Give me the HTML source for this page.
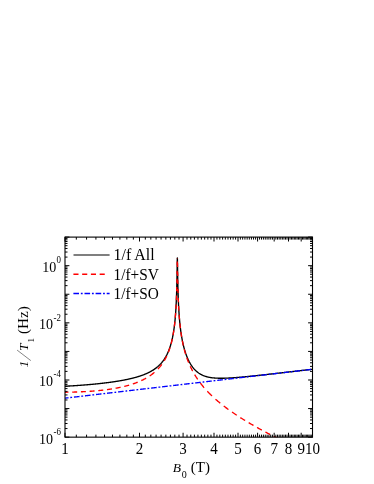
<!DOCTYPE html>
<html><head><meta charset="utf-8"><title>plot</title>
<style>
html,body{margin:0;padding:0;background:#fff;}
body{width:374px;height:484px;overflow:hidden;font-family:"Liberation Serif",serif;}
svg{display:block;will-change:transform;}
text{filter:grayscale(1);font-family:"Liberation Serif",serif;fill:#000;}
</style></head><body>
<svg width="374" height="484" viewBox="0 0 374 484">
<rect width="374" height="484" fill="#fff"/>
<defs><clipPath id="c"><rect x="65.0" y="237.1" width="247.5" height="200.04999999999998"/></clipPath></defs>
<g fill="none" stroke-width="1.35" stroke-linejoin="round" clip-path="url(#c)">
<path d="M65.00,386.23 L65.35,386.21 L65.71,386.20 L66.06,386.18 L66.41,386.16 L66.77,386.14 L67.12,386.12 L67.47,386.10 L67.83,386.08 L68.18,386.06 L68.54,386.04 L68.89,386.02 L69.24,386.01 L69.60,385.99 L69.95,385.96 L70.30,385.94 L70.66,385.92 L71.01,385.90 L71.36,385.88 L71.72,385.86 L72.07,385.84 L72.42,385.82 L72.78,385.80 L73.13,385.78 L73.49,385.75 L73.84,385.73 L74.19,385.71 L74.55,385.69 L74.90,385.66 L75.25,385.64 L75.61,385.62 L75.96,385.59 L76.31,385.57 L76.67,385.55 L77.02,385.52 L77.38,385.50 L77.73,385.48 L78.08,385.45 L78.44,385.43 L78.79,385.40 L79.14,385.38 L79.50,385.35 L79.85,385.33 L80.20,385.30 L80.56,385.27 L80.91,385.25 L81.26,385.22 L81.62,385.20 L81.97,385.17 L82.33,385.14 L82.68,385.12 L83.03,385.09 L83.39,385.06 L83.74,385.03 L84.09,385.01 L84.45,384.98 L84.80,384.95 L85.15,384.92 L85.51,384.89 L85.86,384.87 L86.21,384.84 L86.57,384.81 L86.92,384.78 L87.28,384.75 L87.63,384.72 L87.98,384.69 L88.34,384.66 L88.69,384.63 L89.04,384.60 L89.40,384.57 L89.75,384.53 L90.10,384.50 L90.46,384.47 L90.81,384.44 L91.16,384.41 L91.52,384.37 L91.87,384.34 L92.22,384.31 L92.58,384.28 L92.93,384.24 L93.29,384.21 L93.64,384.18 L93.99,384.14 L94.35,384.11 L94.70,384.07 L95.05,384.04 L95.41,384.00 L95.76,383.97 L96.11,383.93 L96.47,383.90 L96.82,383.86 L97.17,383.82 L97.53,383.79 L97.88,383.75 L98.24,383.71 L98.59,383.68 L98.94,383.64 L99.30,383.60 L99.65,383.56 L100.00,383.52 L100.36,383.49 L100.71,383.45 L101.06,383.41 L101.42,383.37 L101.77,383.33 L102.12,383.29 L102.48,383.25 L102.83,383.21 L103.19,383.16 L103.54,383.12 L103.89,383.08 L104.25,383.04 L104.60,383.00 L104.95,382.95 L105.31,382.91 L105.66,382.87 L106.01,382.82 L106.37,382.78 L106.72,382.74 L107.08,382.69 L107.43,382.65 L107.78,382.60 L108.14,382.55 L108.49,382.51 L108.84,382.46 L109.20,382.41 L109.55,382.37 L109.90,382.32 L110.26,382.27 L110.61,382.22 L110.96,382.17 L111.32,382.13 L111.67,382.08 L112.03,382.03 L112.38,381.98 L112.73,381.92 L113.09,381.87 L113.44,381.82 L113.79,381.77 L114.15,381.72 L114.50,381.66 L114.85,381.61 L115.21,381.56 L115.56,381.50 L115.91,381.45 L116.27,381.39 L116.62,381.34 L116.97,381.28 L117.33,381.22 L117.68,381.17 L118.04,381.11 L118.39,381.05 L118.74,380.99 L119.10,380.93 L119.45,380.87 L119.80,380.81 L120.16,380.75 L120.51,380.69 L120.86,380.63 L121.22,380.56 L121.57,380.50 L121.92,380.44 L122.28,380.37 L122.63,380.31 L122.99,380.24 L123.34,380.17 L123.69,380.11 L124.05,380.04 L124.40,379.97 L124.75,379.90 L125.11,379.83 L125.46,379.76 L125.81,379.69 L126.17,379.62 L126.52,379.55 L126.88,379.47 L127.23,379.40 L127.58,379.32 L127.94,379.25 L128.29,379.17 L128.64,379.09 L129.00,379.01 L129.35,378.93 L129.70,378.85 L130.06,378.77 L130.41,378.69 L130.76,378.61 L131.12,378.52 L131.47,378.44 L131.82,378.35 L132.18,378.27 L132.53,378.18 L132.89,378.09 L133.24,378.00 L133.59,377.91 L133.95,377.82 L134.30,377.72 L134.65,377.63 L135.01,377.53 L135.36,377.44 L135.71,377.34 L136.07,377.24 L136.42,377.14 L136.78,377.03 L137.13,376.93 L137.48,376.83 L137.84,376.72 L138.19,376.61 L138.54,376.50 L138.90,376.39 L139.25,376.28 L139.60,376.16 L139.96,376.05 L140.31,375.93 L140.66,375.81 L141.02,375.69 L141.37,375.57 L141.72,375.44 L142.08,375.32 L142.43,375.19 L142.79,375.06 L143.14,374.93 L143.49,374.79 L143.85,374.66 L144.20,374.52 L144.55,374.38 L144.91,374.23 L145.26,374.09 L145.61,373.94 L145.97,373.79 L146.32,373.63 L146.68,373.48 L147.03,373.32 L147.38,373.16 L147.74,372.99 L148.09,372.82 L148.44,372.65 L148.80,372.48 L149.15,372.30 L149.50,372.12 L149.86,371.94 L150.21,371.75 L150.56,371.56 L150.92,371.36 L151.27,371.16 L151.62,370.96 L151.98,370.75 L152.33,370.54 L152.69,370.32 L153.04,370.10 L153.39,369.87 L153.75,369.64 L154.10,369.41 L154.45,369.16 L154.81,368.92 L155.16,368.66 L155.51,368.40 L155.87,368.14 L156.22,367.87 L156.57,367.59 L156.93,367.30 L157.28,367.01 L157.64,366.71 L157.99,366.41 L158.34,366.09 L158.70,365.77 L159.05,365.43 L159.40,365.09 L159.76,364.74 L160.11,364.38 L160.46,364.01 L160.82,363.63 L161.17,363.23 L161.53,362.83 L161.88,362.41 L162.23,361.98 L162.59,361.53 L162.94,361.07 L163.29,360.60 L163.65,360.11 L164.00,359.60 L164.35,359.08 L164.71,358.53 L165.06,357.97 L165.41,357.39 L165.77,356.78 L166.12,356.15 L166.47,355.49 L166.83,354.81 L167.18,354.10 L167.54,353.36 L167.89,352.58 L168.24,351.77 L168.60,350.92 L168.95,350.03 L169.30,349.09 L169.66,348.11 L170.01,347.07 L170.36,345.97 L170.72,344.81 L171.07,343.58 L171.43,342.26 L171.78,340.85 L172.13,339.35 L172.49,337.73 L172.84,335.97 L173.19,334.06 L173.55,331.97 L173.90,329.66 L174.25,327.09 L174.35,326.35 L174.40,325.95 L174.45,325.55 L174.50,325.13 L174.55,324.71 L174.60,324.28 L174.61,324.20 L174.65,323.84 L174.70,323.39 L174.75,322.94 L174.80,322.47 L174.85,322.00 L174.90,321.51 L174.95,321.02 L174.96,320.89 L175.00,320.51 L175.05,320.00 L175.10,319.47 L175.15,318.93 L175.20,318.37 L175.25,317.81 L175.30,317.23 L175.31,317.04 L175.35,316.64 L175.40,316.03 L175.45,315.40 L175.50,314.76 L175.55,314.10 L175.60,313.42 L175.65,312.72 L175.67,312.44 L175.70,312.00 L175.75,311.26 L175.80,310.50 L175.85,309.71 L175.90,308.90 L175.95,308.05 L176.00,307.18 L176.02,306.77 L176.05,306.27 L176.10,305.33 L176.15,304.35 L176.20,303.34 L176.25,302.27 L176.30,301.17 L176.35,300.01 L176.38,299.36 L176.40,298.79 L176.45,297.51 L176.50,296.17 L176.55,294.75 L176.60,293.24 L176.65,291.65 L176.70,289.95 L176.73,288.84 L176.75,288.13 L176.80,286.19 L176.85,284.10 L176.90,281.84 L176.95,279.39 L177.00,276.74 L177.05,273.87 L177.08,271.79 L177.10,270.78 L177.15,267.50 L177.20,264.18 L177.25,261.11 L177.30,258.82 L177.35,257.97 L177.40,258.87 L177.44,260.53 L177.45,261.19 L177.50,264.29 L177.55,267.63 L177.60,270.93 L177.65,274.04 L177.70,276.93 L177.75,279.61 L177.79,281.64 L177.80,282.07 L177.85,284.35 L177.90,286.46 L177.95,288.43 L178.00,290.27 L178.05,291.99 L178.10,293.60 L178.14,294.98 L178.15,295.13 L178.20,296.57 L178.25,297.94 L178.30,299.24 L178.35,300.48 L178.40,301.66 L178.45,302.79 L178.50,303.84 L178.50,303.88 L178.55,304.92 L178.60,305.92 L178.65,306.88 L178.70,307.81 L178.75,308.71 L178.80,309.57 L178.85,310.41 L178.85,310.44 L178.90,311.22 L178.95,312.01 L179.00,312.77 L179.05,313.51 L179.10,314.23 L179.15,314.93 L179.20,315.62 L179.20,315.70 L179.25,316.28 L179.30,316.93 L179.35,317.56 L179.40,318.18 L179.45,318.78 L179.50,319.37 L179.55,319.94 L179.56,320.04 L179.60,320.50 L179.65,321.05 L179.70,321.59 L179.75,322.12 L179.80,322.64 L179.85,323.14 L179.90,323.64 L179.91,323.77 L179.95,324.13 L180.00,324.61 L180.05,325.08 L180.10,325.54 L180.15,325.99 L180.20,326.43 L180.25,326.87 L180.26,327.01 L180.30,327.30 L180.35,327.72 L180.62,329.89 L180.97,332.48 L181.32,334.83 L181.68,336.98 L182.03,338.95 L182.39,340.79 L182.74,342.49 L183.09,344.09 L183.45,345.58 L183.80,346.99 L184.15,348.32 L184.51,349.58 L184.86,350.77 L185.21,351.90 L185.57,352.98 L185.92,354.01 L186.28,354.99 L186.63,355.93 L186.98,356.82 L187.34,357.68 L187.69,358.50 L188.04,359.29 L188.40,360.05 L188.75,360.77 L189.10,361.47 L189.46,362.14 L189.81,362.78 L190.16,363.40 L190.52,364.00 L190.87,364.57 L191.22,365.13 L191.58,365.66 L191.93,366.17 L192.29,366.66 L192.64,367.14 L192.99,367.59 L193.35,368.03 L193.70,368.46 L194.05,368.87 L194.41,369.26 L194.76,369.64 L195.11,370.01 L195.47,370.36 L195.82,370.70 L196.18,371.03 L196.53,371.34 L196.88,371.65 L197.24,371.94 L197.59,372.22 L197.94,372.49 L198.30,372.75 L198.65,373.01 L199.00,373.25 L199.36,373.48 L199.71,373.70 L200.06,373.92 L200.42,374.13 L200.77,374.33 L201.12,374.52 L201.48,374.70 L201.83,374.88 L202.19,375.05 L202.54,375.21 L202.89,375.37 L203.25,375.52 L203.60,375.67 L203.95,375.80 L204.31,375.94 L204.66,376.06 L205.01,376.19 L205.37,376.30 L205.72,376.42 L206.07,376.52 L206.43,376.63 L206.78,376.73 L207.14,376.82 L207.49,376.91 L207.84,377.00 L208.20,377.08 L208.55,377.16 L208.90,377.23 L209.26,377.30 L209.61,377.37 L209.96,377.43 L210.32,377.49 L210.67,377.55 L211.03,377.61 L211.38,377.66 L211.73,377.71 L212.09,377.76 L212.44,377.80 L212.79,377.84 L213.15,377.88 L213.50,377.92 L213.85,377.95 L214.21,377.98 L214.56,378.01 L214.91,378.04 L215.27,378.07 L215.62,378.09 L215.97,378.11 L216.33,378.13 L216.68,378.15 L217.04,378.17 L217.39,378.18 L217.74,378.20 L218.10,378.21 L218.45,378.22 L218.80,378.23 L219.16,378.24 L219.51,378.24 L219.86,378.25 L220.22,378.25 L220.57,378.25 L220.93,378.26 L221.28,378.26 L221.63,378.25 L221.99,378.25 L222.34,378.25 L222.69,378.24 L223.05,378.24 L223.40,378.23 L223.75,378.23 L224.11,378.22 L224.46,378.21 L224.81,378.20 L225.17,378.19 L225.52,378.18 L225.88,378.16 L226.23,378.15 L226.58,378.14 L226.94,378.12 L227.29,378.11 L227.64,378.09 L228.00,378.08 L228.35,378.06 L228.70,378.04 L229.06,378.02 L229.41,378.00 L229.76,377.98 L230.12,377.96 L230.47,377.94 L230.82,377.92 L231.18,377.90 L231.53,377.88 L231.89,377.85 L232.24,377.83 L232.59,377.81 L232.95,377.78 L233.30,377.76 L233.65,377.73 L234.01,377.71 L234.36,377.68 L234.71,377.66 L235.07,377.63 L235.42,377.60 L235.78,377.58 L236.13,377.55 L236.48,377.52 L236.84,377.49 L237.19,377.47 L237.54,377.44 L237.90,377.41 L238.25,377.38 L238.60,377.35 L238.96,377.32 L239.31,377.29 L239.66,377.26 L240.02,377.23 L240.37,377.20 L240.72,377.17 L241.08,377.14 L241.43,377.10 L241.79,377.07 L242.14,377.04 L242.49,377.01 L242.85,376.97 L243.20,376.94 L243.55,376.91 L243.91,376.88 L244.26,376.84 L244.61,376.81 L244.97,376.78 L245.32,376.74 L245.68,376.71 L246.03,376.67 L246.38,376.64 L246.74,376.61 L247.09,376.57 L247.44,376.54 L247.80,376.50 L248.15,376.47 L248.50,376.43 L248.86,376.40 L249.21,376.36 L249.56,376.33 L249.92,376.29 L250.27,376.25 L250.62,376.22 L250.98,376.18 L251.33,376.15 L251.69,376.11 L252.04,376.07 L252.39,376.04 L252.75,376.00 L253.10,375.96 L253.45,375.93 L253.81,375.89 L254.16,375.85 L254.51,375.82 L254.87,375.78 L255.22,375.74 L255.57,375.70 L255.93,375.67 L256.28,375.63 L256.64,375.59 L256.99,375.55 L257.34,375.52 L257.70,375.48 L258.05,375.44 L258.40,375.40 L258.76,375.37 L259.11,375.33 L259.46,375.29 L259.82,375.25 L260.17,375.21 L260.52,375.17 L260.88,375.14 L261.23,375.10 L261.59,375.06 L261.94,375.02 L262.29,374.98 L262.65,374.94 L263.00,374.91 L263.35,374.87 L263.71,374.83 L264.06,374.79 L264.41,374.75 L264.77,374.71 L265.12,374.67 L265.48,374.63 L265.83,374.59 L266.18,374.55 L266.54,374.52 L266.89,374.48 L267.24,374.44 L267.60,374.40 L267.95,374.36 L268.30,374.32 L268.66,374.28 L269.01,374.24 L269.36,374.20 L269.72,374.16 L270.07,374.12 L270.43,374.08 L270.78,374.04 L271.13,374.00 L271.49,373.96 L271.84,373.92 L272.19,373.88 L272.55,373.84 L272.90,373.80 L273.25,373.76 L273.61,373.73 L273.96,373.69 L274.31,373.65 L274.67,373.61 L275.02,373.57 L275.38,373.53 L275.73,373.49 L276.08,373.45 L276.44,373.41 L276.79,373.37 L277.14,373.33 L277.50,373.29 L277.85,373.25 L278.20,373.20 L278.56,373.16 L278.91,373.12 L279.26,373.08 L279.62,373.04 L279.97,373.00 L280.32,372.96 L280.68,372.92 L281.03,372.88 L281.39,372.84 L281.74,372.80 L282.09,372.76 L282.45,372.72 L282.80,372.68 L283.15,372.64 L283.51,372.60 L283.86,372.56 L284.21,372.52 L284.57,372.48 L284.92,372.44 L285.27,372.40 L285.63,372.36 L285.98,372.32 L286.34,372.28 L286.69,372.24 L287.04,372.20 L287.40,372.15 L287.75,372.11 L288.10,372.07 L288.46,372.03 L288.81,371.99 L289.16,371.95 L289.52,371.91 L289.87,371.87 L290.23,371.83 L290.58,371.79 L290.93,371.75 L291.29,371.71 L291.64,371.67 L291.99,371.63 L292.35,371.59 L292.70,371.54 L293.05,371.50 L293.41,371.46 L293.76,371.42 L294.11,371.38 L294.47,371.34 L294.82,371.30 L295.18,371.26 L295.53,371.22 L295.88,371.18 L296.24,371.14 L296.59,371.10 L296.94,371.06 L297.30,371.01 L297.65,370.97 L298.00,370.93 L298.36,370.89 L298.71,370.85 L299.06,370.81 L299.42,370.77 L299.77,370.73 L300.12,370.69 L300.48,370.65 L300.83,370.61 L301.19,370.56 L301.54,370.52 L301.89,370.48 L302.25,370.44 L302.60,370.40 L302.95,370.36 L303.31,370.32 L303.66,370.28 L304.01,370.24 L304.37,370.20 L304.72,370.16 L305.07,370.11 L305.43,370.07 L305.78,370.03 L306.14,369.99 L306.49,369.95 L306.84,369.91 L307.20,369.87 L307.55,369.83 L307.90,369.79 L308.26,369.75 L308.61,369.70 L308.96,369.66 L309.32,369.62 L309.67,369.58 L310.02,369.54 L310.38,369.50 L310.73,369.46 L311.09,369.42 L311.44,369.38 L311.79,369.33 L312.15,369.29 L312.50,369.25" stroke="#000"/>
<path d="M65.00,392.22 L65.60,392.21 L66.20,392.20 L66.80,392.20 L67.40,392.19 L68.00,392.18 L68.48,392.17 M72.20,392.10 L72.80,392.08 L73.40,392.07 L74.00,392.05 L74.60,392.03 L75.20,392.02 L75.80,392.00 L76.40,391.98 L77.00,391.96 L77.18,391.95 M80.90,391.81 L81.48,391.78 L82.06,391.76 L82.64,391.73 L83.22,391.70 L83.80,391.67 L84.38,391.64 L84.96,391.61 L85.54,391.58 L85.88,391.56 M89.60,391.33 L90.18,391.29 L90.76,391.25 L91.32,391.21 L91.88,391.17 L92.44,391.12 L93.00,391.08 L93.56,391.04 L94.12,390.99 L94.58,390.95 M98.28,390.62 L98.84,390.56 L99.40,390.51 L99.96,390.45 L100.52,390.39 L101.08,390.33 L101.64,390.27 L102.18,390.21 L102.72,390.15 L103.26,390.09 M106.96,389.62 L107.50,389.55 L108.04,389.47 L108.58,389.40 L109.12,389.32 L109.66,389.24 L110.20,389.16 L110.74,389.08 L111.26,389.00 L111.78,388.92 L111.92,388.89 M115.62,388.26 L116.14,388.17 L116.66,388.07 L117.18,387.97 L117.70,387.87 L118.22,387.77 L118.72,387.67 L119.22,387.56 L119.72,387.46 L120.22,387.35 L120.56,387.28 M124.24,386.43 L124.74,386.31 L125.22,386.19 L125.70,386.06 L126.18,385.94 L126.66,385.81 L127.14,385.68 L127.62,385.55 L128.10,385.41 L128.58,385.28 L129.06,385.14 L129.16,385.11 M132.80,383.97 L133.26,383.81 L133.72,383.66 L134.18,383.50 L134.64,383.33 L135.10,383.17 L135.54,383.01 L135.98,382.84 L136.42,382.67 L136.86,382.50 L137.30,382.33 L137.68,382.18 M141.30,380.62 L141.72,380.42 L142.14,380.22 L142.56,380.02 L142.98,379.81 L143.38,379.61 L143.78,379.40 L144.18,379.20 L144.58,378.99 L144.98,378.77 L145.38,378.55 L145.78,378.33 L146.10,378.15 M149.66,375.95 L150.02,375.71 L150.38,375.46 L150.74,375.21 L151.10,374.95 L151.46,374.69 L151.82,374.42 L152.18,374.15 L152.52,373.89 L152.86,373.63 L153.20,373.36 L153.54,373.08 L153.88,372.80 L154.22,372.52 L154.40,372.36 M157.90,369.05 L158.20,368.73 L158.50,368.41 L158.80,368.08 L159.10,367.74 L159.38,367.42 L159.66,367.10 L159.94,366.76 L160.22,366.42 L160.50,366.08 L160.78,365.73 L161.06,365.37 L161.32,365.03 L161.58,364.68 L161.84,364.33 M164.22,360.74 L164.46,360.33 L164.70,359.92 L164.92,359.54 L165.14,359.14 L165.36,358.74 L165.58,358.33 L165.80,357.92 L166.02,357.49 L166.24,357.05 L166.44,356.65 L166.64,356.23 L166.76,355.98 M168.34,352.33 L168.52,351.87 L168.70,351.40 L168.88,350.92 L169.06,350.43 L169.22,349.98 L169.38,349.53 L169.54,349.06 L169.70,348.58 L169.86,348.10 L170.02,347.60 L170.06,347.47 M171.12,343.82 L171.26,343.28 L171.40,342.74 L171.54,342.18 L171.66,341.69 L171.78,341.19 L171.90,340.68 L172.02,340.15 L172.14,339.61 L172.26,339.06 L172.30,338.88 M173.04,335.12 L173.14,334.56 L173.24,333.99 L173.34,333.40 L173.44,332.80 L173.54,332.18 L173.64,331.54 L173.72,331.02 L173.80,330.49 L173.82,330.35 M174.34,326.53 L174.42,325.88 L174.50,325.21 L174.58,324.53 L174.66,323.82 L174.72,323.27 L174.78,322.72 L174.84,322.15 L174.90,321.56 M175.26,317.72 L175.32,317.02 L175.38,316.30 L175.44,315.55 L175.50,314.78 L175.56,313.98 L175.62,313.15 L175.64,312.87 M175.90,308.89 L175.94,308.21 L175.98,307.52 L176.02,306.81 L176.06,306.07 L176.10,305.31 L176.14,304.53 M176.34,300.21 L176.38,299.25 L176.42,298.25 L176.46,297.21 L176.50,296.12 L176.52,295.56 M176.66,291.25 L176.68,290.58 L176.70,289.88 L176.72,289.17 L176.74,288.44 L176.76,287.68 L176.78,286.91 M176.88,282.67 L176.90,281.75 L176.92,280.79 L176.94,279.80 L176.96,278.78 M177.04,274.35 L177.06,273.15 L177.08,271.92 L177.10,270.65 M177.18,265.37 L177.20,264.05 L177.22,262.77 L177.24,261.57 M177.36,258.03 L177.38,258.35 M177.48,263.12 L177.50,264.42 L177.52,265.75 L177.54,267.10 M177.62,272.32 L177.64,273.56 L177.66,274.76 L177.68,275.92 M177.76,280.22 L177.78,281.21 L177.80,282.17 L177.82,283.10 L177.84,284.00 M177.96,288.89 L177.98,289.62 L178.00,290.34 L178.02,291.04 L178.04,291.73 L178.06,292.39 L178.08,293.04 M178.24,297.74 L178.28,298.79 L178.32,299.81 L178.36,300.78 L178.40,301.72 L178.42,302.18 M178.60,305.98 L178.64,306.75 L178.68,307.50 L178.72,308.23 L178.76,308.94 L178.80,309.64 L178.84,310.31 L178.86,310.64 M179.14,314.87 L179.20,315.69 L179.26,316.49 L179.32,317.26 L179.38,318.01 L179.44,318.74 L179.50,319.45 M179.86,323.35 L179.92,323.95 L179.98,324.53 L180.04,325.10 L180.10,325.66 L180.16,326.21 L180.24,326.92 L180.32,327.61 L180.38,328.12 M180.88,332.01 L180.96,332.59 L181.04,333.15 L181.12,333.70 L181.20,334.24 L181.28,334.76 L181.38,335.41 L181.48,336.04 L181.58,336.65 L181.62,336.90 M182.30,340.71 L182.40,341.23 L182.50,341.74 L182.62,342.34 L182.74,342.93 L182.86,343.50 L182.98,344.06 L183.10,344.61 L183.22,345.15 L183.30,345.51 M184.22,349.28 L184.36,349.82 L184.50,350.34 L184.64,350.85 L184.78,351.36 L184.92,351.85 L185.06,352.34 L185.20,352.82 L185.34,353.29 L185.48,353.75 L185.60,354.14 M186.82,357.85 L186.98,358.30 L187.14,358.75 L187.32,359.24 L187.50,359.73 L187.68,360.21 L187.86,360.68 L188.04,361.14 L188.22,361.60 L188.40,362.05 L188.58,362.49 L188.64,362.63 M190.24,366.30 L190.44,366.72 L190.64,367.15 L190.84,367.56 L191.04,367.98 L191.24,368.38 L191.44,368.78 L191.66,369.22 L191.88,369.65 L192.10,370.07 L192.32,370.49 L192.54,370.91 L192.64,371.09 M194.68,374.68 L194.92,375.08 L195.16,375.47 L195.40,375.86 L195.64,376.24 L195.88,376.62 L196.12,377.00 L196.36,377.37 L196.60,377.74 L196.84,378.10 L197.08,378.46 L197.34,378.84 L197.60,379.23 L197.74,379.43 M200.30,382.97 L200.56,383.31 L200.84,383.67 L201.12,384.03 L201.40,384.39 L201.68,384.74 L201.96,385.09 L202.24,385.44 L202.52,385.78 L202.80,386.12 L203.08,386.46 L203.36,386.79 L203.64,387.13 L203.92,387.45 L204.14,387.71 M207.30,391.22 L207.60,391.54 L207.90,391.86 L208.20,392.17 L208.50,392.48 L208.80,392.79 L209.10,393.10 L209.40,393.40 L209.70,393.70 L210.00,394.00 L210.32,394.32 L210.64,394.64 L210.96,394.95 L211.28,395.26 L211.60,395.57 L211.92,395.88 L211.94,395.90 M215.48,399.16 L215.80,399.44 L216.12,399.72 L216.44,400.00 L216.78,400.30 L217.12,400.59 L217.46,400.88 L217.80,401.17 L218.14,401.46 L218.48,401.75 L218.82,402.04 L219.16,402.32 L219.50,402.60 L219.84,402.88 L220.18,403.16 L220.20,403.18 M223.74,405.99 L224.08,406.26 L224.42,406.52 L224.76,406.78 L225.12,407.05 L225.48,407.32 L225.84,407.59 L226.20,407.86 L226.56,408.13 L226.92,408.40 L227.28,408.67 L227.64,408.93 L228.00,409.19 L228.36,409.46 L228.48,409.54 M232.02,412.06 L232.38,412.31 L232.74,412.55 L233.10,412.80 L233.46,413.05 L233.82,413.29 L234.18,413.54 L234.54,413.78 L234.90,414.02 L235.26,414.27 L235.62,414.51 L236.00,414.76 L236.38,415.01 L236.76,415.26 L236.78,415.28 M240.34,417.58 L240.72,417.82 L241.10,418.06 L241.48,418.30 L241.86,418.54 L242.24,418.78 L242.62,419.02 L243.00,419.25 L243.38,419.49 L243.76,419.72 L244.14,419.96 L244.52,420.19 L244.90,420.42 L245.10,420.54 M248.68,422.69 L249.06,422.92 L249.44,423.14 L249.82,423.36 L250.20,423.59 L250.58,423.81 L250.96,424.03 L251.34,424.25 L251.74,424.48 L252.14,424.71 L252.54,424.94 L252.94,425.17 L253.34,425.40 L253.46,425.47 M257.02,427.48 L257.42,427.70 L257.82,427.92 L258.22,428.14 L258.62,428.36 L259.02,428.58 L259.42,428.80 L259.82,429.02 L260.22,429.24 L260.62,429.46 L261.02,429.67 L261.42,429.89 L261.82,430.11 M265.40,432.02 L265.80,432.23 L266.20,432.44 L266.60,432.65 L267.00,432.86 L267.40,433.07 L267.80,433.28 L268.20,433.49 L268.60,433.69 L269.00,433.90 L269.40,434.11 L269.80,434.32 L270.20,434.52 M273.80,436.36 L274.20,436.56 L274.60,436.76 L275.00,436.96 L275.40,437.16 L275.80,437.36 L276.22,437.57 L276.64,437.78 L277.06,437.99 L277.48,438.20 L277.90,438.41 L278.32,438.62 L278.60,438.75 M282.20,440.52 L282.62,440.72 L283.04,440.93 L283.46,441.13 L283.88,441.33 L284.30,441.54 L284.72,441.74 L285.14,441.94 L285.56,442.14 L285.98,442.34 L286.40,442.54 L286.82,442.74 L287.02,442.84 M290.62,444.54 L291.04,444.74 L291.46,444.94 L291.88,445.13 L292.30,445.33 L292.72,445.53 L293.14,445.72 L293.56,445.92 L293.98,446.11 L294.40,446.31 L294.82,446.50 L295.24,446.70 L295.46,446.80 M299.06,448.45 L299.48,448.64 L299.90,448.83 L300.32,449.02 L300.74,449.21 L301.16,449.40 L301.58,449.59 L302.00,449.78 L302.42,449.97 L302.84,450.16 L303.26,450.35 L303.68,450.54 L303.88,450.63 M307.50,452.25 L307.92,452.44 L308.34,452.62 L308.76,452.81 L309.18,452.99 L309.60,453.18 L310.02,453.36 L310.44,453.55 L310.86,453.74 L311.28,453.92 L311.70,454.10 L312.12,454.29 L312.34,454.39" stroke="#f00"/>
<path d="M65.00,398.16 L65.35,398.12 L65.71,398.08 L66.06,398.03 L66.41,397.99 L66.77,397.95 L67.12,397.91 L67.47,397.87 L67.83,397.83 L68.18,397.79 L68.54,397.75 L68.89,397.70 L69.24,397.66 L69.60,397.62 L69.95,397.58 L70.30,397.54 L70.66,397.50 L71.01,397.46 L71.36,397.42 L71.72,397.37 L72.07,397.33 L72.42,397.29 L72.78,397.25 L73.13,397.21 L73.49,397.17 L73.84,397.13 L74.19,397.09 L74.55,397.04 L74.90,397.00 L75.25,396.96 L75.61,396.92 L75.96,396.88 L76.31,396.84 L76.67,396.80 L77.02,396.76 L77.38,396.71 L77.73,396.67 L78.08,396.63 L78.44,396.59 L78.79,396.55 L79.14,396.51 L79.50,396.47 L79.85,396.42 L80.20,396.38 L80.56,396.34 L80.91,396.30 L81.26,396.26 L81.62,396.22 L81.97,396.18 L82.33,396.14 L82.68,396.09 L83.03,396.05 L83.39,396.01 L83.74,395.97 L84.09,395.93 L84.45,395.89 L84.80,395.85 L85.15,395.81 L85.51,395.76 L85.86,395.72 L86.21,395.68 L86.57,395.64 L86.92,395.60 L87.28,395.56 L87.63,395.52 L87.98,395.48 L88.34,395.43 L88.69,395.39 L89.04,395.35 L89.40,395.31 L89.75,395.27 L90.10,395.23 L90.46,395.19 L90.81,395.15 L91.16,395.10 L91.52,395.06 L91.87,395.02 L92.22,394.98 L92.58,394.94 L92.93,394.90 L93.29,394.86 L93.64,394.82 L93.99,394.77 L94.35,394.73 L94.70,394.69 L95.05,394.65 L95.41,394.61 L95.76,394.57 L96.11,394.53 L96.47,394.48 L96.82,394.44 L97.17,394.40 L97.53,394.36 L97.88,394.32 L98.24,394.28 L98.59,394.24 L98.94,394.20 L99.30,394.15 L99.65,394.11 L100.00,394.07 L100.36,394.03 L100.71,393.99 L101.06,393.95 L101.42,393.91 L101.77,393.87 L102.12,393.82 L102.48,393.78 L102.83,393.74 L103.19,393.70 L103.54,393.66 L103.89,393.62 L104.25,393.58 L104.60,393.54 L104.95,393.49 L105.31,393.45 L105.66,393.41 L106.01,393.37 L106.37,393.33 L106.72,393.29 L107.08,393.25 L107.43,393.21 L107.78,393.16 L108.14,393.12 L108.49,393.08 L108.84,393.04 L109.20,393.00 L109.55,392.96 L109.90,392.92 L110.26,392.88 L110.61,392.83 L110.96,392.79 L111.32,392.75 L111.67,392.71 L112.03,392.67 L112.38,392.63 L112.73,392.59 L113.09,392.54 L113.44,392.50 L113.79,392.46 L114.15,392.42 L114.50,392.38 L114.85,392.34 L115.21,392.30 L115.56,392.26 L115.91,392.21 L116.27,392.17 L116.62,392.13 L116.97,392.09 L117.33,392.05 L117.68,392.01 L118.04,391.97 L118.39,391.93 L118.74,391.88 L119.10,391.84 L119.45,391.80 L119.80,391.76 L120.16,391.72 L120.51,391.68 L120.86,391.64 L121.22,391.60 L121.57,391.55 L121.92,391.51 L122.28,391.47 L122.63,391.43 L122.99,391.39 L123.34,391.35 L123.69,391.31 L124.05,391.27 L124.40,391.22 L124.75,391.18 L125.11,391.14 L125.46,391.10 L125.81,391.06 L126.17,391.02 L126.52,390.98 L126.88,390.94 L127.23,390.89 L127.58,390.85 L127.94,390.81 L128.29,390.77 L128.64,390.73 L129.00,390.69 L129.35,390.65 L129.70,390.60 L130.06,390.56 L130.41,390.52 L130.76,390.48 L131.12,390.44 L131.47,390.40 L131.82,390.36 L132.18,390.32 L132.53,390.27 L132.89,390.23 L133.24,390.19 L133.59,390.15 L133.95,390.11 L134.30,390.07 L134.65,390.03 L135.01,389.99 L135.36,389.94 L135.71,389.90 L136.07,389.86 L136.42,389.82 L136.78,389.78 L137.13,389.74 L137.48,389.70 L137.84,389.66 L138.19,389.61 L138.54,389.57 L138.90,389.53 L139.25,389.49 L139.60,389.45 L139.96,389.41 L140.31,389.37 L140.66,389.33 L141.02,389.28 L141.37,389.24 L141.72,389.20 L142.08,389.16 L142.43,389.12 L142.79,389.08 L143.14,389.04 L143.49,389.00 L143.85,388.95 L144.20,388.91 L144.55,388.87 L144.91,388.83 L145.26,388.79 L145.61,388.75 L145.97,388.71 L146.32,388.67 L146.68,388.62 L147.03,388.58 L147.38,388.54 L147.74,388.50 L148.09,388.46 L148.44,388.42 L148.80,388.38 L149.15,388.33 L149.50,388.29 L149.86,388.25 L150.21,388.21 L150.56,388.17 L150.92,388.13 L151.27,388.09 L151.62,388.05 L151.98,388.00 L152.33,387.96 L152.69,387.92 L153.04,387.88 L153.39,387.84 L153.75,387.80 L154.10,387.76 L154.45,387.72 L154.81,387.67 L155.16,387.63 L155.51,387.59 L155.87,387.55 L156.22,387.51 L156.57,387.47 L156.93,387.43 L157.28,387.39 L157.64,387.34 L157.99,387.30 L158.34,387.26 L158.70,387.22 L159.05,387.18 L159.40,387.14 L159.76,387.10 L160.11,387.06 L160.46,387.01 L160.82,386.97 L161.17,386.93 L161.53,386.89 L161.88,386.85 L162.23,386.81 L162.59,386.77 L162.94,386.73 L163.29,386.68 L163.65,386.64 L164.00,386.60 L164.35,386.56 L164.71,386.52 L165.06,386.48 L165.41,386.44 L165.77,386.39 L166.12,386.35 L166.47,386.31 L166.83,386.27 L167.18,386.23 L167.54,386.19 L167.89,386.15 L168.24,386.11 L168.60,386.06 L168.95,386.02 L169.30,385.98 L169.66,385.94 L170.01,385.90 L170.36,385.86 L170.72,385.82 L171.07,385.78 L171.43,385.73 L171.78,385.69 L172.13,385.65 L172.49,385.61 L172.84,385.57 L173.19,385.53 L173.55,385.49 L173.90,385.45 L174.25,385.40 L174.35,385.39 L174.40,385.39 L174.45,385.38 L174.50,385.38 L174.55,385.37 L174.60,385.36 L174.61,385.36 L174.65,385.36 L174.70,385.35 L174.75,385.35 L174.80,385.34 L174.85,385.33 L174.90,385.33 L174.95,385.32 L174.96,385.32 L175.00,385.32 L175.05,385.31 L175.10,385.31 L175.15,385.30 L175.20,385.29 L175.25,385.29 L175.30,385.28 L175.31,385.28 L175.35,385.28 L175.40,385.27 L175.45,385.26 L175.50,385.26 L175.55,385.25 L175.60,385.25 L175.65,385.24 L175.67,385.24 L175.70,385.24 L175.75,385.23 L175.80,385.22 L175.85,385.22 L175.90,385.21 L175.95,385.21 L176.00,385.20 L176.02,385.20 L176.05,385.19 L176.10,385.19 L176.15,385.18 L176.20,385.18 L176.25,385.17 L176.30,385.17 L176.35,385.16 L176.38,385.16 L176.40,385.15 L176.45,385.15 L176.50,385.14 L176.55,385.14 L176.60,385.13 L176.65,385.12 L176.70,385.12 L176.73,385.12 L176.75,385.11 L176.80,385.11 L176.85,385.10 L176.90,385.10 L176.95,385.09 L177.00,385.08 L177.05,385.08 L177.08,385.07 L177.10,385.07 L177.15,385.07 L177.20,385.06 L177.25,385.05 L177.30,385.05 L177.35,385.04 L177.40,385.04 L177.44,385.03 L177.45,385.03 L177.50,385.03 L177.55,385.02 L177.60,385.01 L177.65,385.01 L177.70,385.00 L177.75,385.00 L177.79,384.99 L177.80,384.99 L177.85,384.98 L177.90,384.98 L177.95,384.97 L178.00,384.97 L178.05,384.96 L178.10,384.96 L178.14,384.95 L178.15,384.95 L178.20,384.94 L178.25,384.94 L178.30,384.93 L178.35,384.93 L178.40,384.92 L178.45,384.91 L178.50,384.91 L178.50,384.91 L178.55,384.90 L178.60,384.90 L178.65,384.89 L178.70,384.89 L178.75,384.88 L178.80,384.87 L178.85,384.87 L178.85,384.87 L178.90,384.86 L178.95,384.86 L179.00,384.85 L179.05,384.84 L179.10,384.84 L179.15,384.83 L179.20,384.83 L179.20,384.83 L179.25,384.82 L179.30,384.82 L179.35,384.81 L179.40,384.80 L179.45,384.80 L179.50,384.79 L179.55,384.79 L179.56,384.79 L179.60,384.78 L179.65,384.77 L179.70,384.77 L179.75,384.76 L179.80,384.76 L179.85,384.75 L179.90,384.75 L179.91,384.74 L179.95,384.74 L180.00,384.73 L180.05,384.73 L180.10,384.72 L180.15,384.72 L180.20,384.71 L180.25,384.70 L180.26,384.70 L180.30,384.70 L180.35,384.69 L180.62,384.66 L180.97,384.62 L181.32,384.58 L181.68,384.54 L182.03,384.50 L182.39,384.45 L182.74,384.41 L183.09,384.37 L183.45,384.33 L183.80,384.29 L184.15,384.25 L184.51,384.21 L184.86,384.17 L185.21,384.12 L185.57,384.08 L185.92,384.04 L186.28,384.00 L186.63,383.96 L186.98,383.92 L187.34,383.88 L187.69,383.84 L188.04,383.79 L188.40,383.75 L188.75,383.71 L189.10,383.67 L189.46,383.63 L189.81,383.59 L190.16,383.55 L190.52,383.51 L190.87,383.46 L191.22,383.42 L191.58,383.38 L191.93,383.34 L192.29,383.30 L192.64,383.26 L192.99,383.22 L193.35,383.18 L193.70,383.13 L194.05,383.09 L194.41,383.05 L194.76,383.01 L195.11,382.97 L195.47,382.93 L195.82,382.89 L196.18,382.85 L196.53,382.80 L196.88,382.76 L197.24,382.72 L197.59,382.68 L197.94,382.64 L198.30,382.60 L198.65,382.56 L199.00,382.51 L199.36,382.47 L199.71,382.43 L200.06,382.39 L200.42,382.35 L200.77,382.31 L201.12,382.27 L201.48,382.23 L201.83,382.18 L202.19,382.14 L202.54,382.10 L202.89,382.06 L203.25,382.02 L203.60,381.98 L203.95,381.94 L204.31,381.90 L204.66,381.85 L205.01,381.81 L205.37,381.77 L205.72,381.73 L206.07,381.69 L206.43,381.65 L206.78,381.61 L207.14,381.57 L207.49,381.52 L207.84,381.48 L208.20,381.44 L208.55,381.40 L208.90,381.36 L209.26,381.32 L209.61,381.28 L209.96,381.24 L210.32,381.19 L210.67,381.15 L211.03,381.11 L211.38,381.07 L211.73,381.03 L212.09,380.99 L212.44,380.95 L212.79,380.91 L213.15,380.86 L213.50,380.82 L213.85,380.78 L214.21,380.74 L214.56,380.70 L214.91,380.66 L215.27,380.62 L215.62,380.58 L215.97,380.53 L216.33,380.49 L216.68,380.45 L217.04,380.41 L217.39,380.37 L217.74,380.33 L218.10,380.29 L218.45,380.24 L218.80,380.20 L219.16,380.16 L219.51,380.12 L219.86,380.08 L220.22,380.04 L220.57,380.00 L220.93,379.96 L221.28,379.91 L221.63,379.87 L221.99,379.83 L222.34,379.79 L222.69,379.75 L223.05,379.71 L223.40,379.67 L223.75,379.63 L224.11,379.58 L224.46,379.54 L224.81,379.50 L225.17,379.46 L225.52,379.42 L225.88,379.38 L226.23,379.34 L226.58,379.30 L226.94,379.25 L227.29,379.21 L227.64,379.17 L228.00,379.13 L228.35,379.09 L228.70,379.05 L229.06,379.01 L229.41,378.97 L229.76,378.92 L230.12,378.88 L230.47,378.84 L230.82,378.80 L231.18,378.76 L231.53,378.72 L231.89,378.68 L232.24,378.64 L232.59,378.59 L232.95,378.55 L233.30,378.51 L233.65,378.47 L234.01,378.43 L234.36,378.39 L234.71,378.35 L235.07,378.30 L235.42,378.26 L235.78,378.22 L236.13,378.18 L236.48,378.14 L236.84,378.10 L237.19,378.06 L237.54,378.02 L237.90,377.97 L238.25,377.93 L238.60,377.89 L238.96,377.85 L239.31,377.81 L239.66,377.77 L240.02,377.73 L240.37,377.69 L240.72,377.64 L241.08,377.60 L241.43,377.56 L241.79,377.52 L242.14,377.48 L242.49,377.44 L242.85,377.40 L243.20,377.36 L243.55,377.31 L243.91,377.27 L244.26,377.23 L244.61,377.19 L244.97,377.15 L245.32,377.11 L245.68,377.07 L246.03,377.03 L246.38,376.98 L246.74,376.94 L247.09,376.90 L247.44,376.86 L247.80,376.82 L248.15,376.78 L248.50,376.74 L248.86,376.70 L249.21,376.65 L249.56,376.61 L249.92,376.57 L250.27,376.53 L250.62,376.49 L250.98,376.45 L251.33,376.41 L251.69,376.36 L252.04,376.32 L252.39,376.28 L252.75,376.24 L253.10,376.20 L253.45,376.16 L253.81,376.12 L254.16,376.08 L254.51,376.03 L254.87,375.99 L255.22,375.95 L255.57,375.91 L255.93,375.87 L256.28,375.83 L256.64,375.79 L256.99,375.75 L257.34,375.70 L257.70,375.66 L258.05,375.62 L258.40,375.58 L258.76,375.54 L259.11,375.50 L259.46,375.46 L259.82,375.42 L260.17,375.37 L260.52,375.33 L260.88,375.29 L261.23,375.25 L261.59,375.21 L261.94,375.17 L262.29,375.13 L262.65,375.09 L263.00,375.04 L263.35,375.00 L263.71,374.96 L264.06,374.92 L264.41,374.88 L264.77,374.84 L265.12,374.80 L265.48,374.76 L265.83,374.71 L266.18,374.67 L266.54,374.63 L266.89,374.59 L267.24,374.55 L267.60,374.51 L267.95,374.47 L268.30,374.42 L268.66,374.38 L269.01,374.34 L269.36,374.30 L269.72,374.26 L270.07,374.22 L270.43,374.18 L270.78,374.14 L271.13,374.09 L271.49,374.05 L271.84,374.01 L272.19,373.97 L272.55,373.93 L272.90,373.89 L273.25,373.85 L273.61,373.81 L273.96,373.76 L274.31,373.72 L274.67,373.68 L275.02,373.64 L275.38,373.60 L275.73,373.56 L276.08,373.52 L276.44,373.48 L276.79,373.43 L277.14,373.39 L277.50,373.35 L277.85,373.31 L278.20,373.27 L278.56,373.23 L278.91,373.19 L279.26,373.15 L279.62,373.10 L279.97,373.06 L280.32,373.02 L280.68,372.98 L281.03,372.94 L281.39,372.90 L281.74,372.86 L282.09,372.82 L282.45,372.77 L282.80,372.73 L283.15,372.69 L283.51,372.65 L283.86,372.61 L284.21,372.57 L284.57,372.53 L284.92,372.49 L285.27,372.44 L285.63,372.40 L285.98,372.36 L286.34,372.32 L286.69,372.28 L287.04,372.24 L287.40,372.20 L287.75,372.15 L288.10,372.11 L288.46,372.07 L288.81,372.03 L289.16,371.99 L289.52,371.95 L289.87,371.91 L290.23,371.87 L290.58,371.82 L290.93,371.78 L291.29,371.74 L291.64,371.70 L291.99,371.66 L292.35,371.62 L292.70,371.58 L293.05,371.54 L293.41,371.49 L293.76,371.45 L294.11,371.41 L294.47,371.37 L294.82,371.33 L295.18,371.29 L295.53,371.25 L295.88,371.21 L296.24,371.16 L296.59,371.12 L296.94,371.08 L297.30,371.04 L297.65,371.00 L298.00,370.96 L298.36,370.92 L298.71,370.88 L299.06,370.83 L299.42,370.79 L299.77,370.75 L300.12,370.71 L300.48,370.67 L300.83,370.63 L301.19,370.59 L301.54,370.55 L301.89,370.50 L302.25,370.46 L302.60,370.42 L302.95,370.38 L303.31,370.34 L303.66,370.30 L304.01,370.26 L304.37,370.21 L304.72,370.17 L305.07,370.13 L305.43,370.09 L305.78,370.05 L306.14,370.01 L306.49,369.97 L306.84,369.93 L307.20,369.88 L307.55,369.84 L307.90,369.80 L308.26,369.76 L308.61,369.72 L308.96,369.68 L309.32,369.64 L309.67,369.60 L310.02,369.55 L310.38,369.51 L310.73,369.47 L311.09,369.43 L311.44,369.39 L311.79,369.35 L312.15,369.31 L312.50,369.27" stroke="#00f" stroke-dasharray="5.6 1.85 1.8 1.85" stroke-dashoffset="2.1"/>
</g>
<g stroke="#000" stroke-width="1">
<line x1="65.00" y1="437.15" x2="65.00" y2="432.75"/><line x1="65.00" y1="237.1" x2="65.00" y2="241.5"/><line x1="76.32" y1="437.15" x2="76.32" y2="434.65"/><line x1="76.32" y1="237.1" x2="76.32" y2="239.6"/><line x1="86.57" y1="437.15" x2="86.57" y2="434.65"/><line x1="86.57" y1="237.1" x2="86.57" y2="239.6"/><line x1="95.92" y1="437.15" x2="95.92" y2="434.65"/><line x1="95.92" y1="237.1" x2="95.92" y2="239.6"/><line x1="104.53" y1="437.15" x2="104.53" y2="434.65"/><line x1="104.53" y1="237.1" x2="104.53" y2="239.6"/><line x1="112.49" y1="437.15" x2="112.49" y2="434.65"/><line x1="112.49" y1="237.1" x2="112.49" y2="239.6"/><line x1="119.91" y1="437.15" x2="119.91" y2="434.65"/><line x1="119.91" y1="237.1" x2="119.91" y2="239.6"/><line x1="126.84" y1="437.15" x2="126.84" y2="434.65"/><line x1="126.84" y1="237.1" x2="126.84" y2="239.6"/><line x1="133.36" y1="437.15" x2="133.36" y2="434.65"/><line x1="133.36" y1="237.1" x2="133.36" y2="239.6"/><line x1="139.50" y1="437.15" x2="139.50" y2="432.75"/><line x1="139.50" y1="237.1" x2="139.50" y2="241.5"/><line x1="145.32" y1="437.15" x2="145.32" y2="434.65"/><line x1="145.32" y1="237.1" x2="145.32" y2="239.6"/><line x1="150.83" y1="437.15" x2="150.83" y2="434.65"/><line x1="150.83" y1="237.1" x2="150.83" y2="239.6"/><line x1="156.07" y1="437.15" x2="156.07" y2="434.65"/><line x1="156.07" y1="237.1" x2="156.07" y2="239.6"/><line x1="161.07" y1="437.15" x2="161.07" y2="434.65"/><line x1="161.07" y1="237.1" x2="161.07" y2="239.6"/><line x1="165.85" y1="437.15" x2="165.85" y2="434.65"/><line x1="165.85" y1="237.1" x2="165.85" y2="239.6"/><line x1="170.43" y1="437.15" x2="170.43" y2="434.65"/><line x1="170.43" y1="237.1" x2="170.43" y2="239.6"/><line x1="174.82" y1="437.15" x2="174.82" y2="434.65"/><line x1="174.82" y1="237.1" x2="174.82" y2="239.6"/><line x1="179.03" y1="437.15" x2="179.03" y2="434.65"/><line x1="179.03" y1="237.1" x2="179.03" y2="239.6"/><line x1="183.09" y1="437.15" x2="183.09" y2="432.75"/><line x1="183.09" y1="237.1" x2="183.09" y2="241.5"/><line x1="187.00" y1="437.15" x2="187.00" y2="434.65"/><line x1="187.00" y1="237.1" x2="187.00" y2="239.6"/><line x1="190.77" y1="437.15" x2="190.77" y2="434.65"/><line x1="190.77" y1="237.1" x2="190.77" y2="239.6"/><line x1="194.41" y1="437.15" x2="194.41" y2="434.65"/><line x1="194.41" y1="237.1" x2="194.41" y2="239.6"/><line x1="197.94" y1="437.15" x2="197.94" y2="434.65"/><line x1="197.94" y1="237.1" x2="197.94" y2="239.6"/><line x1="201.35" y1="437.15" x2="201.35" y2="434.65"/><line x1="201.35" y1="237.1" x2="201.35" y2="239.6"/><line x1="204.66" y1="437.15" x2="204.66" y2="434.65"/><line x1="204.66" y1="237.1" x2="204.66" y2="239.6"/><line x1="207.87" y1="437.15" x2="207.87" y2="434.65"/><line x1="207.87" y1="237.1" x2="207.87" y2="239.6"/><line x1="210.98" y1="437.15" x2="210.98" y2="434.65"/><line x1="210.98" y1="237.1" x2="210.98" y2="239.6"/><line x1="214.01" y1="437.15" x2="214.01" y2="432.75"/><line x1="214.01" y1="237.1" x2="214.01" y2="241.5"/><line x1="216.95" y1="437.15" x2="216.95" y2="434.65"/><line x1="216.95" y1="237.1" x2="216.95" y2="239.6"/><line x1="219.82" y1="437.15" x2="219.82" y2="434.65"/><line x1="219.82" y1="237.1" x2="219.82" y2="239.6"/><line x1="222.61" y1="437.15" x2="222.61" y2="434.65"/><line x1="222.61" y1="237.1" x2="222.61" y2="239.6"/><line x1="225.33" y1="437.15" x2="225.33" y2="434.65"/><line x1="225.33" y1="237.1" x2="225.33" y2="239.6"/><line x1="227.99" y1="437.15" x2="227.99" y2="434.65"/><line x1="227.99" y1="237.1" x2="227.99" y2="239.6"/><line x1="230.58" y1="437.15" x2="230.58" y2="434.65"/><line x1="230.58" y1="237.1" x2="230.58" y2="239.6"/><line x1="233.11" y1="437.15" x2="233.11" y2="434.65"/><line x1="233.11" y1="237.1" x2="233.11" y2="239.6"/><line x1="235.58" y1="437.15" x2="235.58" y2="434.65"/><line x1="235.58" y1="237.1" x2="235.58" y2="239.6"/><line x1="238.00" y1="437.15" x2="238.00" y2="432.75"/><line x1="238.00" y1="237.1" x2="238.00" y2="241.5"/><line x1="240.36" y1="437.15" x2="240.36" y2="434.65"/><line x1="240.36" y1="237.1" x2="240.36" y2="239.6"/><line x1="242.67" y1="437.15" x2="242.67" y2="434.65"/><line x1="242.67" y1="237.1" x2="242.67" y2="239.6"/><line x1="244.93" y1="437.15" x2="244.93" y2="434.65"/><line x1="244.93" y1="237.1" x2="244.93" y2="239.6"/><line x1="247.15" y1="437.15" x2="247.15" y2="434.65"/><line x1="247.15" y1="237.1" x2="247.15" y2="239.6"/><line x1="249.32" y1="437.15" x2="249.32" y2="434.65"/><line x1="249.32" y1="237.1" x2="249.32" y2="239.6"/><line x1="251.45" y1="437.15" x2="251.45" y2="434.65"/><line x1="251.45" y1="237.1" x2="251.45" y2="239.6"/><line x1="253.54" y1="437.15" x2="253.54" y2="434.65"/><line x1="253.54" y1="237.1" x2="253.54" y2="239.6"/><line x1="255.58" y1="437.15" x2="255.58" y2="434.65"/><line x1="255.58" y1="237.1" x2="255.58" y2="239.6"/><line x1="257.59" y1="437.15" x2="257.59" y2="432.75"/><line x1="257.59" y1="237.1" x2="257.59" y2="241.5"/><line x1="259.56" y1="437.15" x2="259.56" y2="434.65"/><line x1="259.56" y1="237.1" x2="259.56" y2="239.6"/><line x1="261.50" y1="437.15" x2="261.50" y2="434.65"/><line x1="261.50" y1="237.1" x2="261.50" y2="239.6"/><line x1="263.40" y1="437.15" x2="263.40" y2="434.65"/><line x1="263.40" y1="237.1" x2="263.40" y2="239.6"/><line x1="265.27" y1="437.15" x2="265.27" y2="434.65"/><line x1="265.27" y1="237.1" x2="265.27" y2="239.6"/><line x1="267.11" y1="437.15" x2="267.11" y2="434.65"/><line x1="267.11" y1="237.1" x2="267.11" y2="239.6"/><line x1="268.92" y1="437.15" x2="268.92" y2="434.65"/><line x1="268.92" y1="237.1" x2="268.92" y2="239.6"/><line x1="270.69" y1="437.15" x2="270.69" y2="434.65"/><line x1="270.69" y1="237.1" x2="270.69" y2="239.6"/><line x1="272.44" y1="437.15" x2="272.44" y2="434.65"/><line x1="272.44" y1="237.1" x2="272.44" y2="239.6"/><line x1="274.16" y1="437.15" x2="274.16" y2="432.75"/><line x1="274.16" y1="237.1" x2="274.16" y2="241.5"/><line x1="275.85" y1="437.15" x2="275.85" y2="434.65"/><line x1="275.85" y1="237.1" x2="275.85" y2="239.6"/><line x1="277.52" y1="437.15" x2="277.52" y2="434.65"/><line x1="277.52" y1="237.1" x2="277.52" y2="239.6"/><line x1="279.16" y1="437.15" x2="279.16" y2="434.65"/><line x1="279.16" y1="237.1" x2="279.16" y2="239.6"/><line x1="280.78" y1="437.15" x2="280.78" y2="434.65"/><line x1="280.78" y1="237.1" x2="280.78" y2="239.6"/><line x1="282.37" y1="437.15" x2="282.37" y2="434.65"/><line x1="282.37" y1="237.1" x2="282.37" y2="239.6"/><line x1="283.94" y1="437.15" x2="283.94" y2="434.65"/><line x1="283.94" y1="237.1" x2="283.94" y2="239.6"/><line x1="285.49" y1="437.15" x2="285.49" y2="434.65"/><line x1="285.49" y1="237.1" x2="285.49" y2="239.6"/><line x1="287.01" y1="437.15" x2="287.01" y2="434.65"/><line x1="287.01" y1="237.1" x2="287.01" y2="239.6"/><line x1="288.51" y1="437.15" x2="288.51" y2="432.75"/><line x1="288.51" y1="237.1" x2="288.51" y2="241.5"/><line x1="290.00" y1="437.15" x2="290.00" y2="434.65"/><line x1="290.00" y1="237.1" x2="290.00" y2="239.6"/><line x1="291.46" y1="437.15" x2="291.46" y2="434.65"/><line x1="291.46" y1="237.1" x2="291.46" y2="239.6"/><line x1="292.90" y1="437.15" x2="292.90" y2="434.65"/><line x1="292.90" y1="237.1" x2="292.90" y2="239.6"/><line x1="294.33" y1="437.15" x2="294.33" y2="434.65"/><line x1="294.33" y1="237.1" x2="294.33" y2="239.6"/><line x1="295.73" y1="437.15" x2="295.73" y2="434.65"/><line x1="295.73" y1="237.1" x2="295.73" y2="239.6"/><line x1="297.12" y1="437.15" x2="297.12" y2="434.65"/><line x1="297.12" y1="237.1" x2="297.12" y2="239.6"/><line x1="298.49" y1="437.15" x2="298.49" y2="434.65"/><line x1="298.49" y1="237.1" x2="298.49" y2="239.6"/><line x1="299.84" y1="437.15" x2="299.84" y2="434.65"/><line x1="299.84" y1="237.1" x2="299.84" y2="239.6"/><line x1="301.18" y1="437.15" x2="301.18" y2="432.75"/><line x1="301.18" y1="237.1" x2="301.18" y2="241.5"/><line x1="302.49" y1="437.15" x2="302.49" y2="434.65"/><line x1="302.49" y1="237.1" x2="302.49" y2="239.6"/><line x1="303.80" y1="437.15" x2="303.80" y2="434.65"/><line x1="303.80" y1="237.1" x2="303.80" y2="239.6"/><line x1="305.08" y1="437.15" x2="305.08" y2="434.65"/><line x1="305.08" y1="237.1" x2="305.08" y2="239.6"/><line x1="306.36" y1="437.15" x2="306.36" y2="434.65"/><line x1="306.36" y1="237.1" x2="306.36" y2="239.6"/><line x1="307.61" y1="437.15" x2="307.61" y2="434.65"/><line x1="307.61" y1="237.1" x2="307.61" y2="239.6"/><line x1="308.86" y1="437.15" x2="308.86" y2="434.65"/><line x1="308.86" y1="237.1" x2="308.86" y2="239.6"/><line x1="310.08" y1="437.15" x2="310.08" y2="434.65"/><line x1="310.08" y1="237.1" x2="310.08" y2="239.6"/><line x1="311.30" y1="437.15" x2="311.30" y2="434.65"/><line x1="311.30" y1="237.1" x2="311.30" y2="239.6"/><line x1="312.50" y1="437.15" x2="312.50" y2="432.75"/><line x1="312.50" y1="237.1" x2="312.50" y2="241.5"/><line x1="65.0" y1="437.15" x2="69.4" y2="437.15"/><line x1="312.5" y1="437.15" x2="308.1" y2="437.15"/><line x1="65.0" y1="428.55" x2="67.5" y2="428.55"/><line x1="312.5" y1="428.55" x2="310.0" y2="428.55"/><line x1="65.0" y1="423.51" x2="67.5" y2="423.51"/><line x1="312.5" y1="423.51" x2="310.0" y2="423.51"/><line x1="65.0" y1="419.94" x2="67.5" y2="419.94"/><line x1="312.5" y1="419.94" x2="310.0" y2="419.94"/><line x1="65.0" y1="417.17" x2="67.5" y2="417.17"/><line x1="312.5" y1="417.17" x2="310.0" y2="417.17"/><line x1="65.0" y1="414.91" x2="67.5" y2="414.91"/><line x1="312.5" y1="414.91" x2="310.0" y2="414.91"/><line x1="65.0" y1="413.00" x2="67.5" y2="413.00"/><line x1="312.5" y1="413.00" x2="310.0" y2="413.00"/><line x1="65.0" y1="411.34" x2="67.5" y2="411.34"/><line x1="312.5" y1="411.34" x2="310.0" y2="411.34"/><line x1="65.0" y1="409.88" x2="67.5" y2="409.88"/><line x1="312.5" y1="409.88" x2="310.0" y2="409.88"/><line x1="65.0" y1="408.57" x2="69.4" y2="408.57"/><line x1="312.5" y1="408.57" x2="308.1" y2="408.57"/><line x1="65.0" y1="399.97" x2="67.5" y2="399.97"/><line x1="312.5" y1="399.97" x2="310.0" y2="399.97"/><line x1="65.0" y1="394.94" x2="67.5" y2="394.94"/><line x1="312.5" y1="394.94" x2="310.0" y2="394.94"/><line x1="65.0" y1="391.37" x2="67.5" y2="391.37"/><line x1="312.5" y1="391.37" x2="310.0" y2="391.37"/><line x1="65.0" y1="388.60" x2="67.5" y2="388.60"/><line x1="312.5" y1="388.60" x2="310.0" y2="388.60"/><line x1="65.0" y1="386.33" x2="67.5" y2="386.33"/><line x1="312.5" y1="386.33" x2="310.0" y2="386.33"/><line x1="65.0" y1="384.42" x2="67.5" y2="384.42"/><line x1="312.5" y1="384.42" x2="310.0" y2="384.42"/><line x1="65.0" y1="382.76" x2="67.5" y2="382.76"/><line x1="312.5" y1="382.76" x2="310.0" y2="382.76"/><line x1="65.0" y1="381.30" x2="67.5" y2="381.30"/><line x1="312.5" y1="381.30" x2="310.0" y2="381.30"/><line x1="65.0" y1="379.99" x2="69.4" y2="379.99"/><line x1="312.5" y1="379.99" x2="308.1" y2="379.99"/><line x1="65.0" y1="371.39" x2="67.5" y2="371.39"/><line x1="312.5" y1="371.39" x2="310.0" y2="371.39"/><line x1="65.0" y1="366.36" x2="67.5" y2="366.36"/><line x1="312.5" y1="366.36" x2="310.0" y2="366.36"/><line x1="65.0" y1="362.79" x2="67.5" y2="362.79"/><line x1="312.5" y1="362.79" x2="310.0" y2="362.79"/><line x1="65.0" y1="360.02" x2="67.5" y2="360.02"/><line x1="312.5" y1="360.02" x2="310.0" y2="360.02"/><line x1="65.0" y1="357.75" x2="67.5" y2="357.75"/><line x1="312.5" y1="357.75" x2="310.0" y2="357.75"/><line x1="65.0" y1="355.84" x2="67.5" y2="355.84"/><line x1="312.5" y1="355.84" x2="310.0" y2="355.84"/><line x1="65.0" y1="354.18" x2="67.5" y2="354.18"/><line x1="312.5" y1="354.18" x2="310.0" y2="354.18"/><line x1="65.0" y1="352.72" x2="67.5" y2="352.72"/><line x1="312.5" y1="352.72" x2="310.0" y2="352.72"/><line x1="65.0" y1="351.41" x2="69.4" y2="351.41"/><line x1="312.5" y1="351.41" x2="308.1" y2="351.41"/><line x1="65.0" y1="342.81" x2="67.5" y2="342.81"/><line x1="312.5" y1="342.81" x2="310.0" y2="342.81"/><line x1="65.0" y1="337.78" x2="67.5" y2="337.78"/><line x1="312.5" y1="337.78" x2="310.0" y2="337.78"/><line x1="65.0" y1="334.21" x2="67.5" y2="334.21"/><line x1="312.5" y1="334.21" x2="310.0" y2="334.21"/><line x1="65.0" y1="331.44" x2="67.5" y2="331.44"/><line x1="312.5" y1="331.44" x2="310.0" y2="331.44"/><line x1="65.0" y1="329.18" x2="67.5" y2="329.18"/><line x1="312.5" y1="329.18" x2="310.0" y2="329.18"/><line x1="65.0" y1="327.26" x2="67.5" y2="327.26"/><line x1="312.5" y1="327.26" x2="310.0" y2="327.26"/><line x1="65.0" y1="325.61" x2="67.5" y2="325.61"/><line x1="312.5" y1="325.61" x2="310.0" y2="325.61"/><line x1="65.0" y1="324.14" x2="67.5" y2="324.14"/><line x1="312.5" y1="324.14" x2="310.0" y2="324.14"/><line x1="65.0" y1="322.84" x2="69.4" y2="322.84"/><line x1="312.5" y1="322.84" x2="308.1" y2="322.84"/><line x1="65.0" y1="314.23" x2="67.5" y2="314.23"/><line x1="312.5" y1="314.23" x2="310.0" y2="314.23"/><line x1="65.0" y1="309.20" x2="67.5" y2="309.20"/><line x1="312.5" y1="309.20" x2="310.0" y2="309.20"/><line x1="65.0" y1="305.63" x2="67.5" y2="305.63"/><line x1="312.5" y1="305.63" x2="310.0" y2="305.63"/><line x1="65.0" y1="302.86" x2="67.5" y2="302.86"/><line x1="312.5" y1="302.86" x2="310.0" y2="302.86"/><line x1="65.0" y1="300.60" x2="67.5" y2="300.60"/><line x1="312.5" y1="300.60" x2="310.0" y2="300.60"/><line x1="65.0" y1="298.68" x2="67.5" y2="298.68"/><line x1="312.5" y1="298.68" x2="310.0" y2="298.68"/><line x1="65.0" y1="297.03" x2="67.5" y2="297.03"/><line x1="312.5" y1="297.03" x2="310.0" y2="297.03"/><line x1="65.0" y1="295.56" x2="67.5" y2="295.56"/><line x1="312.5" y1="295.56" x2="310.0" y2="295.56"/><line x1="65.0" y1="294.26" x2="69.4" y2="294.26"/><line x1="312.5" y1="294.26" x2="308.1" y2="294.26"/><line x1="65.0" y1="285.65" x2="67.5" y2="285.65"/><line x1="312.5" y1="285.65" x2="310.0" y2="285.65"/><line x1="65.0" y1="280.62" x2="67.5" y2="280.62"/><line x1="312.5" y1="280.62" x2="310.0" y2="280.62"/><line x1="65.0" y1="277.05" x2="67.5" y2="277.05"/><line x1="312.5" y1="277.05" x2="310.0" y2="277.05"/><line x1="65.0" y1="274.28" x2="67.5" y2="274.28"/><line x1="312.5" y1="274.28" x2="310.0" y2="274.28"/><line x1="65.0" y1="272.02" x2="67.5" y2="272.02"/><line x1="312.5" y1="272.02" x2="310.0" y2="272.02"/><line x1="65.0" y1="270.11" x2="67.5" y2="270.11"/><line x1="312.5" y1="270.11" x2="310.0" y2="270.11"/><line x1="65.0" y1="268.45" x2="67.5" y2="268.45"/><line x1="312.5" y1="268.45" x2="310.0" y2="268.45"/><line x1="65.0" y1="266.99" x2="67.5" y2="266.99"/><line x1="312.5" y1="266.99" x2="310.0" y2="266.99"/><line x1="65.0" y1="265.68" x2="69.4" y2="265.68"/><line x1="312.5" y1="265.68" x2="308.1" y2="265.68"/><line x1="65.0" y1="257.08" x2="67.5" y2="257.08"/><line x1="312.5" y1="257.08" x2="310.0" y2="257.08"/><line x1="65.0" y1="252.04" x2="67.5" y2="252.04"/><line x1="312.5" y1="252.04" x2="310.0" y2="252.04"/><line x1="65.0" y1="248.47" x2="67.5" y2="248.47"/><line x1="312.5" y1="248.47" x2="310.0" y2="248.47"/><line x1="65.0" y1="245.70" x2="67.5" y2="245.70"/><line x1="312.5" y1="245.70" x2="310.0" y2="245.70"/><line x1="65.0" y1="243.44" x2="67.5" y2="243.44"/><line x1="312.5" y1="243.44" x2="310.0" y2="243.44"/><line x1="65.0" y1="241.53" x2="67.5" y2="241.53"/><line x1="312.5" y1="241.53" x2="310.0" y2="241.53"/><line x1="65.0" y1="239.87" x2="67.5" y2="239.87"/><line x1="312.5" y1="239.87" x2="310.0" y2="239.87"/><line x1="65.0" y1="238.41" x2="67.5" y2="238.41"/><line x1="312.5" y1="238.41" x2="310.0" y2="238.41"/><line x1="65.0" y1="237.10" x2="69.4" y2="237.10"/><line x1="312.5" y1="237.10" x2="308.1" y2="237.10"/>
</g>
<rect x="65.0" y="237.1" width="247.50" height="200.05" fill="none" stroke="#000" stroke-width="1.1"/>
<g font-size="15">
<text transform="translate(65.00,453.6) scale(0.94,1)" text-anchor="middle" font-size="16">1</text><text transform="translate(139.50,453.6) scale(0.94,1)" text-anchor="middle" font-size="16">2</text><text transform="translate(183.09,453.6) scale(0.94,1)" text-anchor="middle" font-size="16">3</text><text transform="translate(214.01,453.6) scale(0.94,1)" text-anchor="middle" font-size="16">4</text><text transform="translate(238.00,453.6) scale(0.94,1)" text-anchor="middle" font-size="16">5</text><text transform="translate(257.59,453.6) scale(0.94,1)" text-anchor="middle" font-size="16">6</text><text transform="translate(274.16,453.6) scale(0.94,1)" text-anchor="middle" font-size="16">7</text><text transform="translate(288.51,453.6) scale(0.94,1)" text-anchor="middle" font-size="16">8</text><text transform="translate(301.18,453.6) scale(0.94,1)" text-anchor="middle" font-size="16">9</text><text transform="translate(312.50,453.6) scale(0.94,1)" text-anchor="middle" font-size="16">10</text>
<text transform="translate(60.9,262.68) scale(0.94,1)" text-anchor="end" font-size="9.5">0</text><text transform="translate(56.3,271.68) scale(0.9,1)" text-anchor="end" font-size="15.6">10</text><text transform="translate(60.9,320.74) scale(0.94,1)" text-anchor="end" font-size="9.5">-2</text><text transform="translate(53.1,329.04) scale(0.9,1)" text-anchor="end" font-size="15.6">10</text><text transform="translate(60.9,377.39) scale(0.94,1)" text-anchor="end" font-size="9.5">-4</text><text transform="translate(53.1,385.99) scale(0.9,1)" text-anchor="end" font-size="15.6">10</text><text transform="translate(60.9,435.45) scale(0.94,1)" text-anchor="end" font-size="9.5">-6</text><text transform="translate(53.1,443.55) scale(0.9,1)" text-anchor="end" font-size="15.6">10</text>
</g>
<!-- legend -->
<g fill="none" stroke-width="1.35">
<line x1="73.5" y1="255" x2="109.6" y2="255" stroke="#000" stroke-width="1.2"/>
<line x1="73.4" y1="274.25" x2="108.4" y2="274.25" stroke="#f00" stroke-dasharray="5.1 3.65"/>
<line x1="73.4" y1="293.5" x2="109.6" y2="293.5" stroke="#00f" stroke-dasharray="5.6 1.85 1.8 1.85"/>
</g>
<g font-size="16.6">
<text transform="translate(113.5,260.0) scale(0.96,1)">1/f All</text>
<text transform="translate(113.5,279.5) scale(0.924,1)">1/f+SV</text>
<text transform="translate(113.5,298.8) scale(0.924,1)">1/f+SO</text>
</g>
<!-- x title -->
<text x="172.8" y="472.1" font-size="13.5" font-style="italic" fill="#777">B</text>
<text x="181.8" y="477.6" font-size="10">0</text>
<text x="190.8" y="472.1" font-size="15">(T)</text>
<!-- y title -->
<g transform="translate(27.6,368) rotate(-90)">
<text x="0.6" y="0.2" font-size="13.5" font-style="italic" fill="#777">1</text>
<line x1="7.4" y1="3.2" x2="17.9" y2="-10.5" stroke="#666" stroke-width="0.8"/>
<text x="16.9" y="0.5" font-size="13.5" font-style="italic" fill="#777">T</text>
<text x="25.4" y="6.3" font-size="9">1</text>
<text x="33.9" y="0.5" font-size="15.3">(Hz)</text>
</g>
</svg>
</body></html>
